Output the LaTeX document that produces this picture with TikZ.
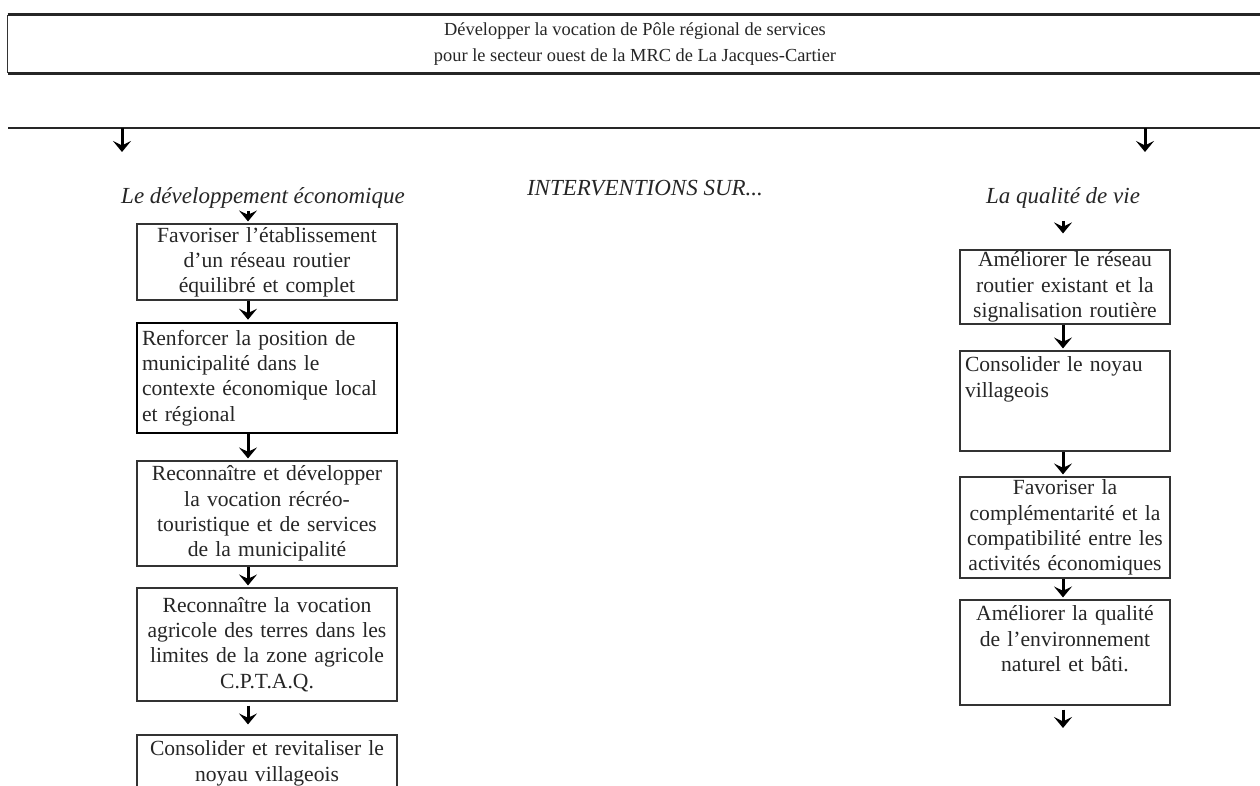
\documentclass[tikz,border=0pt]{standalone}
\usepackage{fontspec}
\setmainfont{Liberation Serif}
\usetikzlibrary{arrows.meta}
\begin{document}
\begin{tikzpicture}[x=0.5pt,y=-0.5pt,
  boxline/.style={draw=black!80, line width=0.55pt},
  txt/.style={font=\fontsize{10.8}{12.6}\selectfont, text=black!85, inner xsep=2.5pt, inner ysep=1pt},
  lbox/.style={boxline, txt, rectangle, minimum width=130pt, text width=125pt, align=center},
  rbox/.style={lbox, minimum width=105pt, text width=100pt},
  thickbox/.style={line width=1.3pt, draw=black},
  lab/.style={font=\fontsize{11.5}{13}\selectfont\itshape, inner sep=1pt, text=black!85},
  arr/.style={-{Stealth[length=5.5pt,width=9pt,inset=2.2pt]}, line width=1.5pt, black, shorten >=1pt},
]
\useasboundingbox (0,0) rectangle (1260,786);
\fill[white] (0,0) rectangle (1260,786);

% banner
\node[minimum width=627pt, minimum height=29pt, inner sep=0pt, font=\fontsize{9.2}{13}\selectfont, align=center, text=black!85] (ban) at (635,44) {Développer la vocation de Pôle régional de services\\pour le secteur ouest de la MRC de La Jacques-Cartier};
\draw[line width=1.4pt, black!85] (ban.north west) -- (ban.north east);
\draw[line width=1.2pt, black!85] (ban.south west) -- (ban.south east);
\draw[line width=0.5pt, black!80] (ban.north west) -- (ban.south west);

% second line and top arrows
\coordinate (l2w) at (8,128);
\coordinate (l2e) at (1260,128);
\draw[line width=1pt, black!85] (l2w) -- (l2e);
\coordinate (t1) at (122,128);
\coordinate (t1e) at (122,154);
\coordinate (t2) at (1145,128);
\coordinate (t2e) at (1145,154);
\draw[arr] (t1) -- (t1e);
\draw[arr] (t2) -- (t2e);

% labels
\node[lab] (intv) at (645,188) {INTERVENTIONS SUR...};
\node[lab] (ld) at (263,198) {Le développement économique};
\node[lab] (lq) at (1063,198) {La qualité de vie};

\coordinate (axl) at (248,0);
\coordinate (axr) at (1063,0);

% left column
\node[lbox, minimum height=38pt] (b1) at (267,262) {Favoriser l’établissement\\d’un réseau routier\\équilibré et complet};
\node[lbox, thickbox, minimum height=55pt, align=left] (b2) at (267,378) {Renforcer la position de\\municipalité dans le\\contexte économique local\\et régional};
\node[lbox, minimum height=52.5pt] (b3) at (267,513.5) {Reconnaître et développer\\la vocation récréo-\\touristique et de services\\de la municipalité};
\node[lbox, minimum height=56.5pt] (b4) at (267,644.5) {Reconnaître la vocation\\agricole des terres dans les\\limites de la zone agricole\\C.P.T.A.Q.};
\node[lbox, minimum height=47.5pt] (b5) at (267,782.5) {};
\node[txt, text width=125pt, align=center, anchor=north] (b5t) at ([yshift=-2pt]b5.north) {Consolider et revitaliser le\\noyau villageois};

\draw[arr] (ld.south -| axl) -- (b1.north -| axl);
\draw[arr] (b1.south -| axl) -- (b2.north -| axl);
\draw[arr] (b2.south -| axl) -- (b3.north -| axl);
\draw[arr] (b3.south -| axl) -- (b4.north -| axl);
\draw[arr, shorten <=2pt, shorten >=5pt] (b4.south -| axl) -- (b5.north -| axl);

% right column
\node[rbox, minimum height=37pt] (ra) at (1065,287) {Améliorer le réseau\\routier existant et la\\signalisation routière};
\node[rbox, minimum height=50pt] (rb) at (1065,401) {};
\node[txt, text width=100pt, align=left, anchor=north] (rbt) at ([yshift=-2pt]rb.north) {Consolider le noyau\\villageois};
\node[rbox, minimum height=50.5pt] (rc) at (1065,527.5) {Favoriser la\\complémentarité et la\\compatibilité entre les\\activités économiques};
\node[rbox, minimum height=52.5pt] (rd) at (1065,652.5) {};
\node[txt, text width=100pt, align=center, anchor=north] (rdt) at ([yshift=-2pt]rd.north) {Améliorer la qualité\\de l’environnement\\naturel et bâti.};
\coordinate (rend) at (1063,730);

\draw[arr, shorten <=5pt, shorten >=8pt] (lq.south -| axr) -- (ra.north -| axr);
\draw[arr] (ra.south -| axr) -- (rb.north -| axr);
\draw[arr] (rb.south -| axr) -- (rc.north -| axr);
\draw[arr] (rc.south -| axr) -- (rd.north -| axr);
\draw[arr, shorten <=2pt] (rd.south -| axr) -- (rend);
\end{tikzpicture}
\end{document}
